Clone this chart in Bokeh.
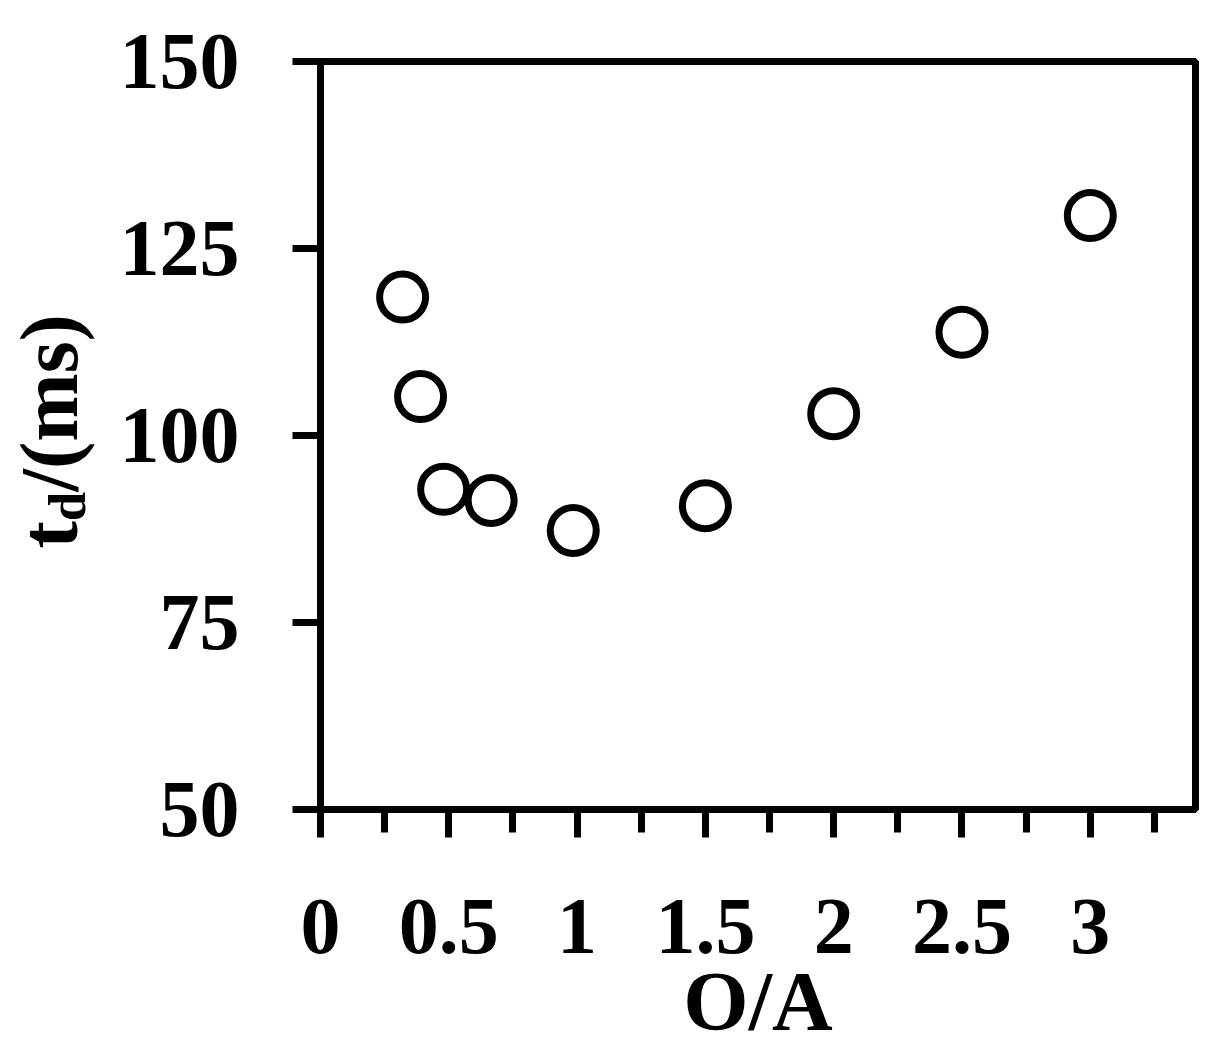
import math
from bokeh.plotting import figure
from bokeh.models import Range1d, FixedTicker
from bokeh.layouts import row
from bokeh.core.properties import value
from bokeh.embed import file_html
from bokeh.resources import INLINE

# data
oa_ratio = [0.32, 0.39, 0.48, 0.665, 0.985, 1.5, 2.0, 2.5, 3.0]
td_ms = [118.5, 105.2, 92.8, 91.3, 87.3, 90.6, 102.9, 113.8, 129.4]

x_major_ticks = [0, 0.5, 1, 1.5, 2, 2.5, 3]
x_tick_labels = ["0", "0.5", "1", "1.5", "2", "2.5", "3"]
x_minor_ticks = [0.25, 0.75, 1.25, 1.75, 2.25, 2.75, 3.25]
y_major_ticks = [50, 75, 100, 125, 150]
y_tick_labels = ["50", "75", "100", "125", "150"]
x_title = "O/A"
y_title_parts = ["t", "d", "/(ms)"]   # t with subscript d, then /(ms)

FONT = "Liberation Serif"
H = 1056
TOP = 61
LW = 110  # width of the strip that holds the rotated y title

# ---- main plot ----
p = figure(width=1102, height=H, output_backend="svg", toolbar_location=None,
           x_range=Range1d(0, 3.41), y_range=Range1d(50, 150),
           min_border_left=320 - LW, min_border_right=17, min_border_top=TOP,
           min_border_bottom=247)

p.scatter(oa_ratio, td_ms, marker="circle", size=46, fill_color=None,
          line_color="black", line_width=7)

p.xgrid.visible = False
p.ygrid.visible = False
p.outline_line_color = "black"
p.outline_line_width = 7
p.outline_line_alpha = 1.0

p.xaxis.ticker = FixedTicker(ticks=x_major_ticks, minor_ticks=x_minor_ticks)
p.xaxis.major_label_overrides = {t: l for t, l in zip(x_major_ticks, x_tick_labels)}
p.yaxis.ticker = FixedTicker(ticks=y_major_ticks, minor_ticks=[])
p.yaxis.major_label_overrides = {t: l for t, l in zip(y_major_ticks, y_tick_labels)}

for ax in (p.xaxis, p.yaxis):
    ax.axis_line_width = 7
    ax.axis_line_color = "black"
    ax.major_tick_line_width = 7
    ax.major_tick_line_color = "black"
    ax.minor_tick_line_width = 7
    ax.minor_tick_line_color = "black"
    ax.major_tick_in = 0
    ax.major_tick_out = 28
    ax.minor_tick_in = 0
    ax.minor_tick_out = 23
    ax.major_label_text_font = FONT
    ax.major_label_text_font_style = "bold"
    ax.major_label_text_font_size = "80px"
    ax.major_label_text_color = "black"

p.xaxis.major_label_standoff = 62
p.yaxis.major_label_standoff = 53

p.xaxis.axis_label = x_title
p.xaxis.axis_label_text_font = FONT
p.xaxis.axis_label_text_font_style = "bold"
p.xaxis.axis_label_text_font_size = "84px"
p.xaxis.axis_label_text_color = "black"
p.xaxis.axis_label_standoff = -1

# ---- strip with the rotated y title (its frame is aligned with the main frame top) ----
QH = H - TOP
q = figure(frame_width=LW, frame_height=QH, output_backend="svg", toolbar_location=None,
           x_range=Range1d(0, LW), y_range=Range1d(0, QH),
           x_axis_type=None, y_axis_type=None, title=None,
           min_border_left=0, min_border_right=0, min_border_top=0, min_border_bottom=0)
q.outline_line_color = None
q.xgrid.visible = False
q.ygrid.visible = False

big, small = 82, 53
w_t = 0.333 * big
w_d = 0.556 * small
w_rest = 2.166 * big
bottom = 548          # page y where the title starts (reads upward)
base_big = 77         # page x of the baseline
base_small = 84
mid_big = base_big - 0.3375 * big
mid_small = base_small - 0.3375 * small

centers_y = [bottom - w_t / 2, bottom - w_t - w_d / 2, bottom - w_t - w_d - w_rest / 2]
centers_x = [mid_big, mid_small, mid_big]
sizes = [big, small, big]
for part, cx, cy, fs in zip(y_title_parts, centers_x, centers_y, sizes):
    q.text(x=[cx], y=[QH - (cy - TOP)], text=[part], angle=math.pi / 2,
           text_font=value(FONT), text_font_style="bold", text_font_size=f"{fs}px",
           text_align="center", text_baseline="middle", text_color="black")

layout = row(q, p, spacing=0)
open("out.html", "w").write(file_html(layout, INLINE))
